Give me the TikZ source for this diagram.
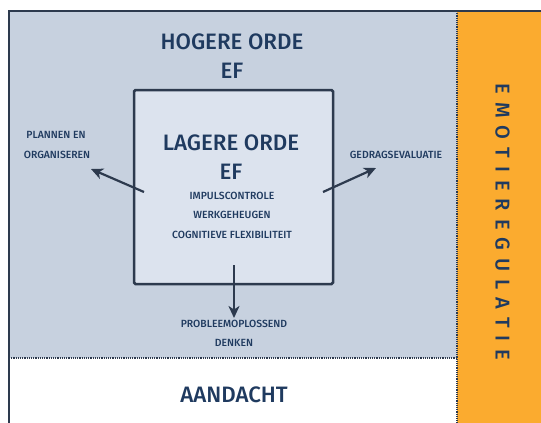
\documentclass[tikz,border=0pt]{standalone}
\usepackage{fontspec}
\setmainfont{Fira Sans}[UprightFont={* Medium}]
\usetikzlibrary{arrows.meta}
\definecolor{txt}{HTML}{1F3A5F}
\definecolor{ln}{HTML}{2D3A4E}
\definecolor{outerfill}{HTML}{C7D1DF}
\definecolor{innerfill}{HTML}{DCE3EE}
\definecolor{orng}{HTML}{FBAB2F}
\tikzset{
  big/.style={text=txt, font=\fontsize{22.3}{26}\selectfont, align=center, inner sep=0pt},
  small/.style={text=txt, font=\fontsize{10.4}{12}\selectfont, align=center, inner sep=0pt},
  arr/.style={draw=ln, line width=2.2pt, -{Stealth[length=12pt,width=11pt,inset=3.5pt]}},
  dots/.style={draw=ln, line width=1.2pt, densely dotted},
}
\begin{document}
\begin{tikzpicture}[x=1pt,y=-1pt]
\useasboundingbox (0,0) rectangle (541,423);
% fills
\fill[outerfill] (9,11) rectangle (457,358);
\fill[white] (9,358) rectangle (457,423);
\fill[orng] (457,11) rectangle (541,423);
% dotted separators
\draw[dots] (9,358) -- (457,358);
\draw[dots] (457,11) -- (457,423);
% frame
\draw[ln, line width=2.5pt] (9,424) -- (9,11) -- (542,11);
% inner box
\node[draw=ln, fill=innerfill, line width=2.5pt, rounded corners=1.5pt, minimum width=199pt, minimum height=194pt, inner sep=0pt] (inner) at (233.5,187) {};
% texts
\node[big] (hogere) at (232,42) {HOGERE ORDE};
\node[big] (hogeref) at (232,71) {EF};
\node[big] (lagere) at (231,143) {LAGERE ORDE};
\node[big] (lagereef) at (231,172) {EF};
\node[small] (impuls) at (232,196) {IMPULSCONTROLE};
\node[small] (werk) at (232,215) {WERKGEHEUGEN};
\node[small] (cogn) at (232,234.5) {COGNITIEVE FLEXIBILITEIT};
\node[small] (plannen) at (56,135) {PLANNEN EN};
\node[small] (organ) at (57,155) {ORGANISEREN};
\node[small] (gedrag) at (396,155) {GEDRAGSEVALUATIE};
\node[small] (probleem) at (234,324) {PROBLEEMOPLOSSEND};
\node[small] (denken) at (234,343) {DENKEN};
\node[big] (aandacht) at (234,395) {AANDACHT};
\def\g{\hspace{8pt}}
\node[text=txt, font=\fontsize{20}{22}\selectfont, inner sep=0pt, rotate=-90] (emo) at (502.5,222)
  {E\g M\g O\g T\g I\g E\g R\g E\g G\g U\g L\g A\g T\g I\g E};
% connectors
\coordinate (lstart) at (144,192);
\coordinate (lend) at (91,169);
\coordinate (rstart) at (323,192);
\coordinate (rend) at (376,168);
\coordinate (dstart) at (234,265);
\coordinate (dend) at (234,318);
\draw[arr] (lstart) -- (lend);
\draw[arr] (rstart) -- (rend);
\draw[arr] (dstart) -- (dend);
\end{tikzpicture}
\end{document}
